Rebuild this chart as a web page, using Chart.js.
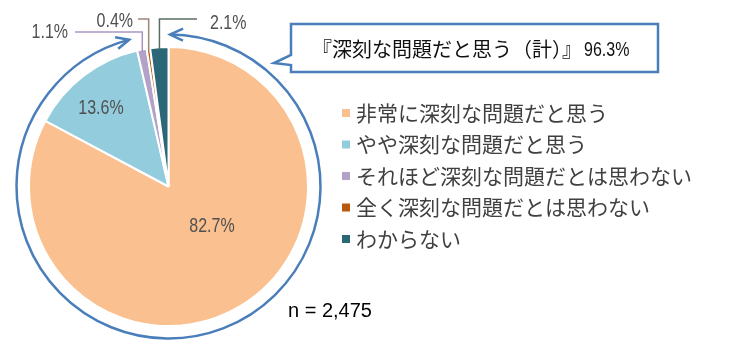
<!DOCTYPE html>
<html lang="ja">
<head>
<meta charset="utf-8">
<script src="https://cdn.jsdelivr.net/npm/chart.js@4.4.1/dist/chart.umd.min.js"></script>
<style>
html, body { margin: 0; padding: 0; background: #fff; }
#wrap { width: 740px; height: 349px; }
</style>
</head>
<body>
<div id="wrap"><canvas id="pie" width="740" height="349"></canvas></div>
<script>
'use strict';

// Answers, in the order they go round the pie (clockwise from the top)
const LABELS = [
    "非常に深刻な問題だと思う",
    "やや深刻な問題だと思う",
    "それほど深刻な問題だとは思わない",
    "全く深刻な問題だとは思わない",
    "わからない"
];

// Share of respondents, percent
const SHARES = [82.7, 13.6, 1.1, 0.4, 2.1];

const COLORS = [
    "#fac090", "#93cddd", "#b3a2c7", "#b85a0d", "#2b6776"
];

// Slices summed up in the callout
const TOTAL_INDEX = [0, 1];
const TOTAL_VALUE = 96.3;
const CALLOUT_TEXT = "『深刻な問題だと思う（計）』";
const SAMPLE_TEXT = "n = 2,475";

const TEXT_GRAY = "#505050";
const LINE_BLUE = "#4a7ebb";
const LATIN = '"Liberation Sans", Arial, sans-serif';
const CJK = '"Noto Sans CJK JP", sans-serif';

// Where the percentages of the big slices sit
const INNER_POS = { 0: [212, 226], 1: [101, 108] };

// Small slices get a leader: up from the slice, then sideways to the text
const OUTER_POS = {
    2: { elbowY: 32, lineEnd: 75, textX: 68, textY: 32, align: "right", color: "#a896c2" },
    3: { elbowY: 19, lineEnd: 138, textX: 133, textY: 21, align: "right", color: "#9a8577" },
    4: { elbowY: 19, lineEnd: 197, textX: 210, textY: 23, align: "left", color: "#5b6e63" }
};

function pct(v) {
    return v.toFixed(1) + "%";
}

// percent labels use a squeezed sans
function narrowText(ctx, text, x, y, size, align) {
    ctx.save();
    ctx.translate(x, y);
    ctx.scale(0.8, 1);
    ctx.font = size + "px " + LATIN;
    ctx.textAlign = align;
    ctx.textBaseline = "middle";
    ctx.fillText(text, 0, 0);
    ctx.restore();
}

function chevron(ctx, px, py, dx, dy) {
    const len = 13, half = 6;
    ctx.beginPath();
    ctx.moveTo(px - dx * len - dy * half, py - dy * len + dx * half);
    ctx.lineTo(px, py);
    ctx.lineTo(px - dx * len + dy * half, py - dy * len - dx * half);
    ctx.stroke();
}

const decorations = {
    id: "decorations",
    afterDraw(chart) {
        const ctx = chart.ctx;
        const arcs = chart.getDatasetMeta(0).data;
        const cx = arcs[0].x, cy = arcs[0].y;
        const R = arcs[0].outerRadius;

        ctx.save();
        ctx.textBaseline = "middle";

        // percentages inside the slices
        ctx.fillStyle = TEXT_GRAY;
        for (const i of Object.keys(INNER_POS)) {
            narrowText(ctx, pct(SHARES[i]), INNER_POS[i][0], INNER_POS[i][1], 20, "center");
        }

        // leaders for the thin slices
        ctx.lineWidth = 1.5;
        for (const i of Object.keys(OUTER_POS)) {
            const o = OUTER_POS[i];
            const a = arcs[i];
            const mid = (a.startAngle + a.endAngle) / 2;
            const sx = cx + Math.cos(mid) * (R - 2);
            const sy = cy + Math.sin(mid) * (R - 2);
            ctx.strokeStyle = o.color;
            ctx.beginPath();
            ctx.moveTo(sx, sy);
            ctx.lineTo(sx, o.elbowY);
            ctx.lineTo(o.lineEnd, o.elbowY);
            ctx.stroke();
            narrowText(ctx, pct(SHARES[i]), o.textX, o.textY, 20, o.align);
        }

        // arc with arrows spanning the "serious" answers
        const r = R + 12.5;
        const start = arcs[TOTAL_INDEX[0]].startAngle + 0.01;
        const end = arcs[TOTAL_INDEX[TOTAL_INDEX.length - 1]].endAngle - 0.035;
        ctx.strokeStyle = LINE_BLUE;
        ctx.lineWidth = 2.5;
        ctx.beginPath();
        ctx.arc(cx, cy, r, start, end);
        ctx.stroke();
        chevron(ctx, cx + Math.cos(start) * r, cy + Math.sin(start) * r,
            Math.sin(start), -Math.cos(start));
        chevron(ctx, cx + Math.cos(end) * r, cy + Math.sin(end) * r,
            -Math.sin(end), Math.cos(end));

        // callout box
        ctx.lineWidth = 2.5;
        ctx.fillStyle = "#ffffff";
        ctx.beginPath();
        ctx.moveTo(291, 24);
        ctx.lineTo(658, 24);
        ctx.lineTo(658, 72);
        ctx.lineTo(291, 72);
        ctx.lineTo(291, 65);
        ctx.lineTo(274, 63);
        ctx.lineTo(291, 55);
        ctx.closePath();
        ctx.fill();
        ctx.stroke();

        ctx.fillStyle = "#111111";
        ctx.textAlign = "left";
        ctx.font = "20px " + CJK;
        ctx.fillText(CALLOUT_TEXT, 312, 49);
        narrowText(ctx, pct(TOTAL_VALUE), 584, 50, 20, "left");

        // legend
        ctx.textAlign = "left";
        ctx.font = "21px " + CJK;
        for (let i = 0; i < LABELS.length; i++) {
            const ly = 113 + i * 31.5;
            ctx.fillStyle = COLORS[i];
            ctx.fillRect(342, ly - 4, 8, 8);
            ctx.fillStyle = "#404040";
            ctx.fillText(LABELS[i], 356, ly);
        }

        // sample size
        ctx.fillStyle = "#000000";
        ctx.font = "20px " + LATIN;
        ctx.fillText(SAMPLE_TEXT, 288, 311);

        ctx.restore();
    }
};

const config = {
    type: "pie",
    data: {
        labels: LABELS,
        datasets: [{
            data: SHARES,
            backgroundColor: COLORS,
            borderColor: "#ffffff",
            borderWidth: 2
        }]
    },
    options: {
        responsive: false,
        animation: false,
        events: [],
        layout: {
            padding: { top: 46, bottom: 22, left: 28, right: 431 }
        },
        plugins: {
            legend: { display: false },
            tooltip: { enabled: false }
        }
    },
    plugins: [decorations]
};

new Chart(document.getElementById("pie"), config);
</script>
</body>
</html>
